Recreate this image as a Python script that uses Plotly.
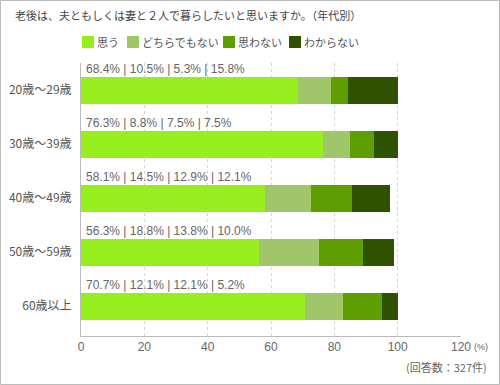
import plotly.graph_objects as go

categories = ["20歳～29歳", "30歳～39歳", "40歳～49歳", "50歳～59歳", "60歳以上"]
series_names = ["思う", "どちらでもない", "思わない", "わからない"]
omou = [68.4, 76.3, 58.1, 56.3, 70.7]
dochira = [10.5, 8.8, 14.5, 18.8, 12.1]
omowanai = [5.3, 7.5, 12.9, 13.8, 12.1]
wakaranai = [15.8, 7.5, 12.1, 10.0, 5.2]
x_ticks = [0, 20, 40, 60, 80, 100, 120]

colors = ["#96EE1E", "#A0C66A", "#5E9E00", "#2F5200"]
series = [omou, dochira, omowanai, wakaranai]

JP = "Noto Sans CJK JP"
LAT = "Liberation Sans"
W, H = 500, 385
ML, MR, MT, MB = 81, 39, 63, 49
PW, PH = W - ML - MR, H - MT - MB

fig = go.Figure()
for name, vals, col in zip(series_names, series, colors):
    fig.add_trace(go.Bar(
        y=categories, x=vals, name=name, orientation="h",
        marker=dict(color=col, line=dict(width=0)),
        showlegend=False, hoverinfo="x+name",
    ))

annotations = []
for i, cat in enumerate(categories):
    txt = " | ".join(f"{s[i]:.1f}%" for s in series)
    annotations.append(dict(
        x=0, y=cat, xref="x", yref="y", text=txt, showarrow=False,
        xanchor="left", yanchor="middle", xshift=3, yshift=21,
        font=dict(family=LAT, size=12, color="#666"),
    ))

def px(xp):
    return (xp - ML) / PW

def py(yp):
    return (H - MB - yp) / PH

# title
annotations.append(dict(
    x=px(13), y=py(15), xref="paper", yref="paper", showarrow=False,
    xanchor="left", yanchor="middle",
    text="老後は、夫ともしくは妻と２人で暮らしたいと思いますか。（年代別）",
    font=dict(family=JP, size=11, color="#444"),
))

shapes = []
# legend
leg_x = [82, 127, 223, 289]
for lx, name, col in zip(leg_x, series_names, colors):
    shapes.append(dict(type="rect", xref="paper", yref="paper",
                       x0=px(lx), x1=px(lx + 12), y0=py(48), y1=py(36),
                       fillcolor=col, line=dict(width=0)))
    annotations.append(dict(
        x=px(lx + 13), y=py(42), xref="paper", yref="paper", showarrow=False,
        xanchor="left", yanchor="middle", text=name,
        font=dict(family=JP, size=11, color="#555"),
    ))

annotations.append(dict(
    x=px(472), y=py(347), xref="paper", yref="paper", showarrow=False,
    xanchor="left", yanchor="middle", text="(%)",
    font=dict(family=LAT, size=9, color="#666"),
))
annotations.append(dict(
    x=px(489), y=py(367), xref="paper", yref="paper", showarrow=False,
    xanchor="right", yanchor="middle", text="(回答数：327件)",
    font=dict(family=JP, size=11, color="#666"),
))

# frame
shapes.append(dict(type="rect", xref="paper", yref="paper",
                   x0=px(0.5), x1=px(W - 0.5), y0=py(H - 0.5), y1=py(0.5),
                   line=dict(color="#BBBBBB", width=1), fillcolor="rgba(0,0,0,0)",
                   layer="below"))

fig.update_layout(
    width=W, height=H,
    margin=dict(l=ML, r=MR, t=MT, b=MB, pad=0, autoexpand=False),
    barmode="stack", bargap=0.5,
    paper_bgcolor="white", plot_bgcolor="white",
    annotations=annotations, shapes=shapes,
    xaxis=dict(
        range=[0, 120], tickvals=x_ticks, ticktext=[str(v) for v in x_ticks],
        showgrid=True, gridcolor="#D5D5D5", griddash="dot", gridwidth=1,
        zeroline=False, showline=True, linecolor="#BBBBBB", linewidth=1,
        ticks="", tickfont=dict(family=LAT, size=12, color="#666"),
        fixedrange=True, automargin=False,
    ),
    yaxis=dict(
        categoryorder="array", categoryarray=categories, autorange="reversed",
        showgrid=False, zeroline=False, showline=True, linecolor="#BBBBBB",
        linewidth=1, ticks="", ticklabelstandoff=6, automargin=False,
        tickfont=dict(family=JP, size=12, color="#555"), fixedrange=True,
    ),
    showlegend=False,
)

fig.write_html(
    "out.html",
    config={"displayModeBar": False},
    post_script="document.body.style.margin='0';document.body.style.overflow='hidden';",
)
